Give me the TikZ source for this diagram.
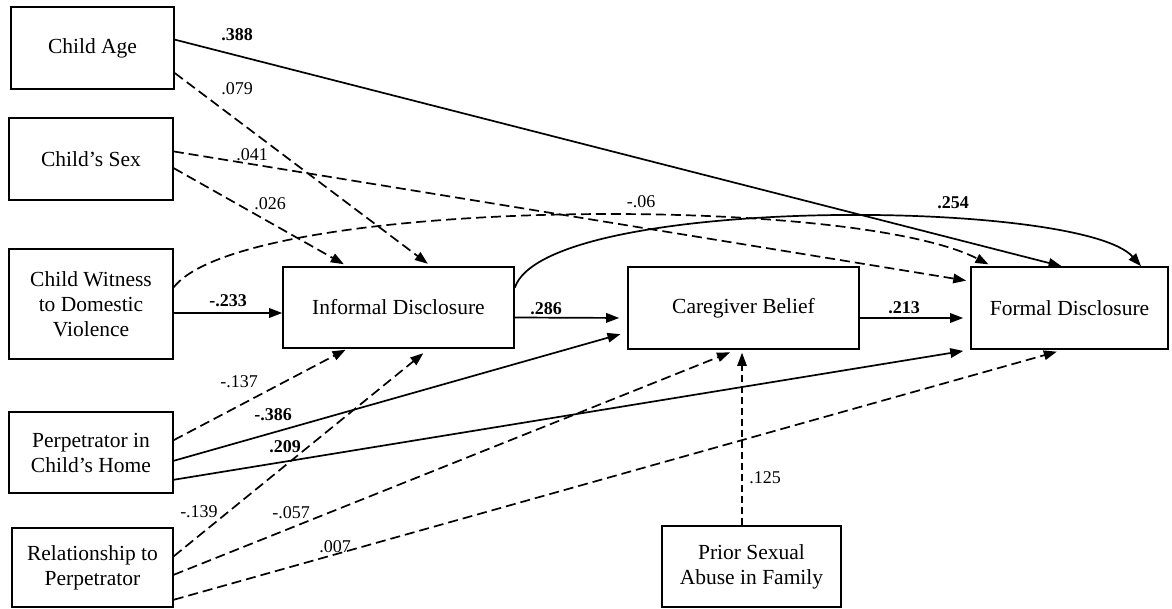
\documentclass[tikz,border=0pt]{standalone}
\usepackage{fontspec}
\setmainfont{Liberation Serif}
\usetikzlibrary{calc,arrows.meta}

\begin{document}
\begin{tikzpicture}[x=1pt,y=-1pt,
    varbox/.style={draw,line width=1.6pt,align=center,inner sep=0pt,font=\fontsize{21.5}{25}\selectfont},
    coef/.style={inner sep=0pt,font=\fontsize{18}{20}\selectfont},
    sig/.style={line width=1.7pt,-{Triangle[length=13pt,width=9.5pt]}},
    ns/.style={sig,dash pattern=on 10pt off 5pt,shorten >=4pt}]

  %% frame of the picture (pixels of the figure)
  \useasboundingbox (0,0) rectangle (1172,609);

  %%%% Variables %%%%
  %% left column
  \node[varbox,minimum width=163pt,minimum height=82pt] (age) at (92.5,48) {Child Age};
  \node[varbox,minimum width=164pt,minimum height=82pt] (sex) at (91,159) {Child's Sex};
  \node[varbox,minimum width=164pt,minimum height=110pt] (witness) at (91,304) {Child Witness\\to Domestic\\Violence};
  \node[varbox,minimum width=164pt,minimum height=81pt] (perp) at (91,452.5) {Perpetrator in\\Child's Home};
  \node[varbox,minimum width=161pt,minimum height=79pt] (rel) at (92.5,567.5) {Relationship to\\Perpetrator};
  %% the chain in the middle
  \node[varbox,minimum width=231pt,minimum height=81pt] (informal) at (398.5,307.5) {Informal Disclosure};
  \node[varbox,minimum width=231pt,minimum height=82pt] (belief) at (743.5,308) {Caregiver Belief};
  \node[varbox,minimum width=197pt,minimum height=82pt] (formal) at (1069.5,308) {Formal Disclosure};
  \node[varbox,minimum width=179pt,minimum height=81pt] (prior) at (751.5,566.5) {Prior Sexual\\Abuse in Family};

  %%%% Paths %%%%
  %% child age and sex
  \draw[sig] ($(age.north east)!.40!(age.south east)$) -- ($(formal.north west)!.46!(formal.north east)$);
  \draw[ns] ($(age.north east)!.80!(age.south east)$) -- ($(informal.north west)!.64!(informal.north east)$);
  \draw[ns] ($(sex.north east)!.41!(sex.south east)$) -- ($(formal.north west)!.18!(formal.south west)$);
  \draw[ns] ($(sex.north east)!.61!(sex.south east)$) -- ($(informal.north west)!.28!(informal.north east)$);

  %% witness to violence
  \draw[ns] ($(witness.north east)!.35!(witness.south east)$) .. controls +(70,-90) and +(-142,-73) .. ($(formal.north west)!.11!(formal.north east)$);
  \draw[sig] ([yshift=-9pt]witness.east) -- ([yshift=-9pt]witness.east -| informal.west);

  %% the main chain
  \draw[sig] ($(informal.north east)!.26!(informal.south east)$) .. controls +(31,-93) and +(-60,-68) .. ($(formal.north west)!.86!(formal.north east)$);
  \draw[sig,shorten >=8pt] ([yshift=-10pt]informal.east) -- ([yshift=-10pt]belief.west);
  \draw[sig,shorten >=7pt] ([yshift=-10pt]belief.east) -- ([yshift=-10pt]formal.west);

  %% perpetrator in the home
  \draw[ns,shorten >=2pt] ($(perp.north east)!.35!(perp.south east)$) -- ($(informal.south west)!.28!(informal.south east)$);
  \draw[sig,shorten >=7pt] ($(perp.north east)!.60!(perp.south east)$) -- ($(belief.north west)!.79!(belief.south west)$);
  \draw[sig,shorten >=7pt] ($(perp.north east)!.83!(perp.south east)$) -- (formal.south west);

  %% relationship
  \draw[ns,shorten >=7pt] ($(rel.north east)!.36!(rel.south east)$) -- ($(informal.south west)!.63!(informal.south east)$);
  \draw[ns,shorten >=7pt] ($(rel.north east)!.59!(rel.south east)$) -- ($(belief.south west)!.47!(belief.south east)$);
  \draw[ns,shorten >=7pt] ($(rel.north east)!.90!(rel.south east)$) -- ($(formal.south west)!.47!(formal.south east)$);

  %% prior abuse (thin line)
  \draw[ns,line width=1.1pt,dash pattern=on 7pt off 4pt,shorten >=3pt] ([xshift=-9.5pt]prior.north) -- ([xshift=-9.5pt]prior.north |- belief.south);

  %%%% Coefficients %%%%
  \foreach \nm/\px/\py/\txt in {
      c388/237/35/\textbf{.388}, c079/237/89/.079, c041/252/155/.041, c026/270/204/.026,
      c233/228/301/\textbf{-.233}, c137/239/382/-.137, c386/273/415/\textbf{-.386},
      c209/285/447/\textbf{.209}, c139/199/512/-.139, c057/291/513/-.057, c007/335/547/.007,
      c06/641/202/-.06, c254/953/203/\textbf{.254}, c286/546/309/\textbf{.286},
      c213/904/308/\textbf{.213}, c125/765/478/.125}{
    \node[coef] (\nm) at (\px,\py) {\txt};
  }

\end{tikzpicture}
\end{document}
